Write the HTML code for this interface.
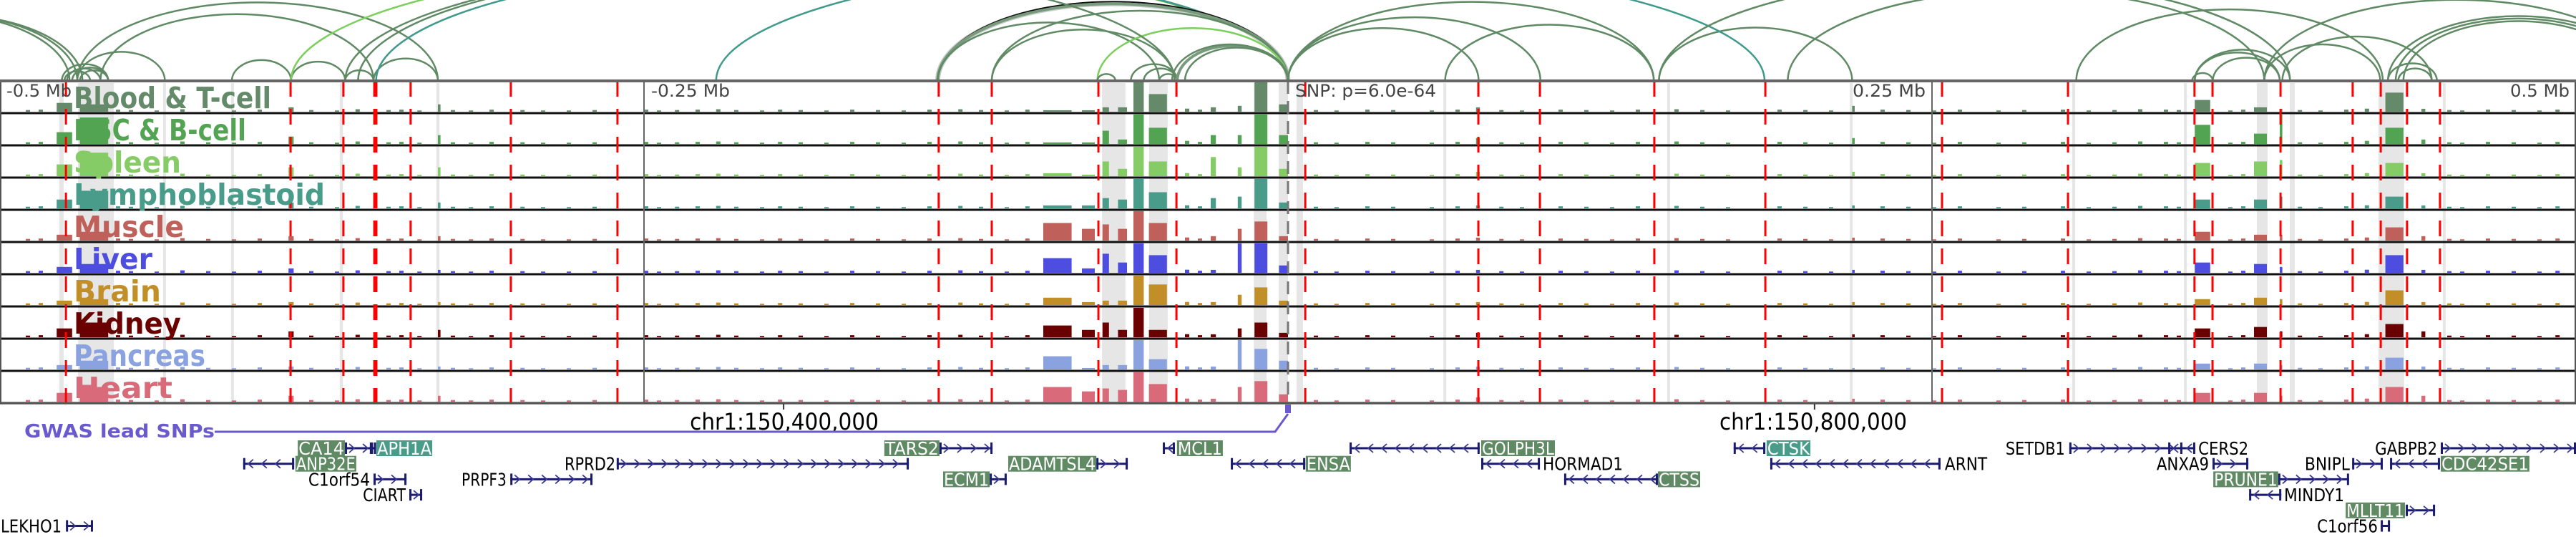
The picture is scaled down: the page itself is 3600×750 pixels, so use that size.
<!DOCTYPE html>
<html><head><meta charset="utf-8"><style>
html,body{margin:0;padding:0;background:#fff;}
svg{display:block;}
</style></head><body>
<svg id="chart" xmlns="http://www.w3.org/2000/svg" width="3600" height="750" viewBox="0 0 3600 750" font-family="'DejaVu Sans','Liberation Sans',sans-serif">
<g id="arcs"></g>
<g id="bands"></g>
<g id="tracks"></g>
<g id="vlines"></g>
<g id="labels"></g>
<g id="axis"></g>
<g id="genes"></g>
</svg>
<script>
// ---- data (genomic offsets in kb relative to lead SNP) ----
const trackNames = ["Blood & T-cell","HSC & B-cell","Spleen","Lymphoblastoid","Muscle","Liver","Brain","Kidney","Pancreas","Heart"];
const trackColors = ["#648a6a","#52a352","#86cc66","#4a9c8a","#c0605a","#4d4de0","#c28e28","#6b0000","#8aa3e0","#d86a7a"];
const labelWidths = [276,241,150,351,154,110,122,150,184,138];
const peakStart = [-478,-469,-388,-330,-95,-80,-72,-66,-60,-54,-30,-19.5,-13,-3.5,73,219,352,375,385,426,440];
const peakEnd   = [-472,-458,-386,-329,-84,-75,-69.5,-62.5,-56,-47,-28,-18,-8,0,74.5,220,358,380,386,433,441.5];
const hBlood   = [0.3,0.25,0.15,0.25,0.05,0.05,0.15,0.15,1.0,0.6,0.15,0.2,1.0,0.25,0.15,0.2,0.4,0.15,0.1,0.65,0.1];
const hHSC     = [0.4,0.9,0.25,0.3,0.05,0.05,0.45,0.15,1.0,0.55,0.3,0.3,1.0,0.3,0.2,0.2,0.65,0.35,1.0,0.55,0.15];
const hSpleen  = [0.4,0.8,0.3,0.3,0.1,0.05,0.5,0.25,1.0,0.5,0.65,0.3,1.0,0.25,0.15,0.15,0.45,0.5,0.55,0.45,0.1];
const hLympho  = [0.3,0.6,0.2,0.2,0.1,0.1,0.35,0.3,1.0,0.55,0.35,0.4,1.0,0.2,0.1,0.1,0.3,0.3,0.4,0.4,0.1];
const hMuscle  = [0.2,0.3,0.15,0.15,0.6,0.4,0.55,0.4,1.0,0.6,0.15,0.4,0.65,0.15,0.1,0.1,0.3,0.2,0.2,0.45,0.15];
const hLiver   = [0.2,0.3,0.15,0.1,0.5,0.15,0.65,0.35,1.0,0.6,0.1,1.0,1.0,0.25,0.1,0.1,0.35,0.3,0.2,0.6,0.1];
const hBrain   = [0.15,0.2,0.1,0.1,0.25,0.1,0.15,0.15,1.0,0.7,0.1,0.35,0.6,0.15,0.1,0.1,0.2,0.25,0.2,0.5,0.1];
const hKidney  = [0.3,0.5,0.2,0.25,0.4,0.25,0.5,0.25,1.0,0.25,0.1,0.3,0.5,0.15,0.15,0.1,0.3,0.35,0.2,0.45,0.2];
const hPancreas= [0.15,0.3,0.1,0.1,0.45,0.05,0.15,0.15,1.0,0.35,0.1,1.0,0.7,0.3,0.1,0.05,0.2,0.2,0.15,0.4,0.1];
const hHeart   = [0.3,0.5,0.2,0.2,0.5,0.35,0.45,0.4,1.0,0.6,0.1,0.5,0.7,0.25,0.15,0.1,0.3,0.3,0.2,0.5,0.2];
const bgKb  = [-490,-485,-455,-450,-440,-430,-420,-410,-400,-380,-370,-362,-350,-345,-338,-325,-318,-310,-298,-290,-280,-270,-250,-245,-238,-230,-222,-215,-205,-198,-190,-180,-170,-160,-150,-140,-128,-120,-110,-102,-40,-35,10,18,30,40,55,65,82,90,105,115,125,135,150,160,170,190,200,210,230,240,250,260,275,285,300,310,320,330,340,345,365,370,392,400,410,418,450,455,465,475,485,492];
const bgVal = [0.08,0.1,0.1,0.08,0.06,0.12,0.08,0.06,0.1,0.08,0.06,0.12,0.08,0.1,0.06,0.08,0.06,0.1,0.08,0.06,0.06,0.08,0.1,0.06,0.08,0.1,0.12,0.08,0.06,0.1,0.08,0.06,0.1,0.08,0.06,0.1,0.12,0.08,0.06,0.1,0.15,0.1,0.08,0.06,0.1,0.08,0.06,0.1,0.08,0.06,0.1,0.08,0.06,0.1,0.12,0.08,0.06,0.1,0.08,0.06,0.1,0.08,0.06,0.1,0.06,0.08,0.1,0.06,0.08,0.12,0.1,0.08,0.06,0.1,0.08,0.06,0.1,0.15,0.08,0.06,0.1,0.08,0.06,0.1];
const redKb = [-474.4,-387.2,-366.7,-354.7,-353.9,-340.6,-301.7,-260.3,-135.6,-115,-73.6,-43.3,6.7,73.9,97.8,142.2,185.3,253.9,302.8,351.9,358.9,385.3,413.3,424.2,434.4,447.2];
const bandStart = [-477,-469.7,-436.7,-410.3,-368.1,-330.6,-72.2,-59.7,-53.9,-13.3,-3.6,3.3,60.3,147.2,218.1,304.4,347.8,376.1,388.9,423.3,448.3];
const bandEnd   = [-475.3,-455.8,-435.6,-409.2,-366.9,-329.4,-63.1,-56.1,-46.7,-8.3,0,5.8,61.4,148.3,219.2,305.6,348.9,380.3,390.8,433.3,449.4];
const arcStart = [-583,-578,-572,-470,-461,-470,-410,-387,-366,-355,-387,-366,-354,-476,-474,-472,-469,-475,-136,-136,-115,-136,-115,-74,-74,-61,-56,-50,-43,-45,-40,-361,0,0,0,61,144,-222,144,351,352,359,352,194,379,379,386,427,430,433,427,431,306];
const arcEnd   = [-473,-470,-468,-330,-355,-436,-387,-366,-355,-330,0,0,0,-458,-461,-458,-458,-465,0,0,0,-50,-44,0,-67,-43,-43,-43,0,0,0,-44,142,98,74,142,219,185,389,359,385,385,389,379,528,424,444,528,525,522,446,444,425];
const arcKind  = [0,0,0,0,0,0,0,0,0,0,1,0,2,0,0,0,0,0,3,4,0,0,0,1,0,0,0,0,4,0,0,0,0,0,0,0,0,2,0,0,0,0,0,0,0,0,0,0,0,0,0,0,0];
const axisText = ["-0.5 Mb","-0.25 Mb","SNP: p=6.0e-64","0.25 Mb","0.5 Mb"];
const axisX    = [9,910,1810,2589,3508];
const axisW    = [91,110,197,102,83];
// genes: name,row,labelStart,labelEnd,box(0 none,1 green,2 teal),geneStart,geneEnd,strand
const genes = [
["CA14",0,-384.4,-366.1,1,-366.1,-355.6,1],["APH1A",0,-353.9,-332.2,2,-356,-354,1],
["TARS2",0,-156.7,-135.3,1,-135.3,-114.7,1],["MCL1",0,-43.1,-25.3,1,-48.6,-43.9,-1],
["GOLPH3L",0,75,103.6,1,23.9,74.4,-1],["CTSK",0,185.8,202.8,2,173,185.3,-1],
["SETDB1",0,278.3,301.9,0,303.3,347.2,1],["CERS2",0,353.1,373.1,0,341.7,352.2,-1],
["GABPB2",0,421.7,446.4,0,447.5,500,1],["ANP32E",1,-385.3,-361.7,1,-405.6,-385.8,-1],
["RPRD2",1,-281.1,-260.8,0,-260.6,-147.2,1],["ADAMTSL4",1,-108.6,-74.4,1,-74.4,-62.2,1],
["ENSA",1,6.9,24.4,1,-22.2,6.7,-1],["HORMAD1",1,98.6,130.3,0,75,97.8,-1],
["ARNT",1,254.7,271.7,0,187.2,253.3,-1],["ANXA9",1,336.9,357.8,0,358.9,372.8,1],
["BNIPL",1,394.4,412.5,0,413.1,425,1],["CDC42SE1",1,447.5,481.9,1,427.8,447.2,-1],
["C1orf54",2,-380.6,-356.1,0,-355,-342.2,1],["PRPF3",2,-321.1,-303.1,0,-301.9,-270,1],
["ECM1",2,-133.9,-115.8,1,-115.8,-109.2,1],["CTSS",2,143.6,160,1,107.2,143.6,-1],
["PRUNE1",2,359.2,384.4,1,384.4,411.9,1],["CIART",3,-359.4,-342.2,0,-341.1,-336.1,1],
["MINDY1",3,386.4,410.3,0,373.1,385.6,-1],["MLLT11",4,410.6,433.6,1,433.9,445.3,1],
["LEKHO1",5,-500,-475.8,0,-474.4,-463.9,1],["C1orf56",5,399.2,423.3,0,424.2,427.8,1]
];
// ---- layout ----
const NS="http://www.w3.org/2000/svg";
const X = kb => 1800 + kb*3.6;
const panelTop=113, trackH=45, barMax=41;
const heights=[hBlood,hHSC,hSpleen,hLympho,hMuscle,hLiver,hBrain,hKidney,hPancreas,hHeart];
function mk(tag,parent,attrs){const e=document.createElementNS(NS,tag);for(const k in attrs)e.setAttribute(k,attrs[k]);parent.appendChild(e);return e;}
const G=id=>document.getElementById(id);

// arcs
const arcColors=["#5f8a64","#7ccf5c","#3f9a8c","#c8cfc8","#7a9a7e"];
arcStart.forEach((s,i)=>{
  const x1=X(s),x2=X(arcEnd[i]);const a=Math.abs(x2-x1)/2;const H=a*0.8/(1+a/300);
  const kind=arcKind[i];
  if(kind===3){
    const p=mk('path',G('arcs'),{d:`M${x1} ${panelTop} A${a} ${H} 0 0 1 ${x2} ${panelTop}`,fill:'none',stroke:'#c8cfc8','stroke-width':7});
    
    
    const q=mk('path',G('arcs'),{d:`M${x1} ${panelTop} A${a} ${H+3} 0 0 1 ${x2} ${panelTop}`,fill:'none',stroke:'#111','stroke-width':2});
    
    
  } else {
    const p=mk('path',G('arcs'),{d:`M${x1} ${panelTop} A${a} ${H} 0 0 1 ${x2} ${panelTop}`,fill:'none',stroke:arcColors[kind],'stroke-width':kind===4?4:2.5});
    
    
  }
});
const cover=mk('rect',G('bands'),{x:0,y:panelTop,width:3600,height:trackH*10,fill:'#fff'});


bandStart.forEach((s,i)=>{
  const r=mk('rect',G('bands'),{x:X(s),y:panelTop+3,width:Math.max(4,X(bandEnd[i])-X(s)),height:trackH*10-3,fill:'#e6e6e6'});
  
  
});
trackNames.forEach((name,t)=>{
  const top=panelTop+t*trackH, base=top+trackH-2;
  const g=mk('g',G('tracks'),{});
  
  
  bgKb.forEach((k,i)=>{
    const r=mk('rect',g,{x:X(k),y:base-bgVal[i]*barMax*0.7,width:6,height:bgVal[i]*barMax*0.7,fill:trackColors[t]});
    
    
  });
  peakStart.forEach((s,i)=>{
    const h=heights[t][i]*barMax;
    const r=mk('rect',g,{x:X(s),y:base-h,width:Math.max(3,X(peakEnd[i])-X(s)),height:h,fill:trackColors[t]});
    
    
  });
  const ln=mk('line',g,{x1:0,x2:3600,y1:top+trackH,y2:top+trackH,stroke:'#111','stroke-width':3});
  
  
  const lb=mk('text',G('labels'),{x:103,y:top+38,'font-size':41,'font-weight':'bold',fill:trackColors[t],textLength:labelWidths[t],lengthAdjust:'spacingAndGlyphs'});
  lb.textContent=name;
  
  
});
const fr=mk('rect',G('axis'),{x:1,y:panelTop,width:3598,height:trackH*10,fill:'none',stroke:'#555','stroke-width':2});


const tl=mk('line',G('axis'),{x1:0,x2:3600,y1:panelTop,y2:panelTop,stroke:'#666','stroke-width':4});


redKb.forEach(k=>{
  const l=mk('line',G('vlines'),{x1:X(k),x2:X(k),y1:panelTop,y2:panelTop+trackH*10,stroke:'#ff0000','stroke-width':3,'stroke-dasharray':'22 17'});
  
  
});
[-250,250].forEach(k=>{
  const l=mk('line',G('vlines'),{x1:X(k),x2:X(k),y1:panelTop,y2:panelTop+trackH*10,stroke:'#666','stroke-width':2});
  
  
});
const snp=mk('line',G('vlines'),{x1:X(0),x2:X(0),y1:panelTop,y2:panelTop+trackH*10,stroke:'#777','stroke-width':3,'stroke-dasharray':'18 10'});


axisText.forEach((txt,i)=>{
  const t=mk('text',G('axis'),{x:axisX[i],y:135,'font-size':24,fill:'#444',textLength:axisW[i],lengthAdjust:'spacingAndGlyphs'});
  t.textContent=txt;
  
  
});
[[-195.8,"chr1:150,400,000",-232.2,-158.9],[204.4,"chr1:150,800,000",167.5,240.3]].forEach(c=>{
  const l=mk('line',G('axis'),{x1:X(c[0]),x2:X(c[0]),y1:564,y2:572,stroke:'#333','stroke-width':2});
  
  
  const t=mk('text',G('axis'),{x:X(c[2]),y:600,'font-size':32,fill:'#000',textLength:X(c[3])-X(c[2]),lengthAdjust:'spacingAndGlyphs'});
  t.textContent=c[1];
  
  
});
const gw=mk('text',G('genes'),{x:34,y:611,'font-size':26,'font-weight':'bold',fill:'#6a5acd',textLength:266,lengthAdjust:'spacingAndGlyphs'});
gw.textContent="GWAS lead SNPs";


const gl=mk('path',G('genes'),{d:`M300 603 L${X(-5)} 603 L${X(0)} 578`,fill:'none',stroke:'#6a5acd','stroke-width':3});


const gm=mk('rect',G('genes'),{x:X(0)-4,y:565,width:8,height:12,fill:'#6a5acd'});


genes.forEach(g=>{
  const [name,row,ls,le,box,gs,ge,str]=g;
  const y=626+row*21.7;
  const grp=mk('g',G('genes'),{});
  
  
  const x1=X(gs),x2=X(ge);
  mk('line',grp,{x1:x1,x2:x2,y1:y,y2:y,stroke:'#1a1a6e','stroke-width':3});
  for(let x=x1+10;x<x2-5;x+=19){
    const d=str>0?`M${x-4} ${y-6} L${x+3} ${y} L${x-4} ${y+6}`:`M${x+4} ${y-6} L${x-3} ${y} L${x+4} ${y+6}`;
    mk('path',grp,{d:d,fill:'none',stroke:'#3a3a8e','stroke-width':1.8});
  }
  mk('rect',grp,{x:x1,y:y-8,width:3,height:16,fill:'#1a1a6e'});
  mk('rect',grp,{x:x2-3,y:y-8,width:3,height:16,fill:'#1a1a6e'});
  const lx1=X(ls),lx2=X(le);
  if(box){mk('rect',grp,{x:lx1,y:y-11,width:lx2-lx1,height:22,fill:box===1?'#5f8a64':'#4a9c8a'});}
  const t=mk('text',grp,{x:lx1+1,y:y+9,'font-size':25,fill:box?'#fff':'#000',textLength:lx2-lx1-2,lengthAdjust:'spacingAndGlyphs'});
  t.textContent=name;
});
</script>
</body></html>
